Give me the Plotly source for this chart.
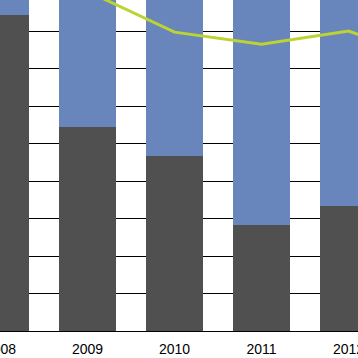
import plotly.graph_objects as go

years = ["2008", "2009", "2010", "2011", "2012", "2013"]
dark_share = [84.3, 54.4, 46.7, 28.3, 33.3]
blue_share = [100 - v for v in dark_share]
line_values = [97.0, 90.6, 79.7, 76.5, 80.0, 71.8]

x_bar = list(range(len(dark_share)))
x_line = list(range(len(line_values)))

fig = go.Figure()
fig.add_trace(go.Bar(x=x_bar, y=dark_share, marker=dict(color="#505050", line=dict(width=0)),
                     width=0.655, showlegend=False))
fig.add_trace(go.Bar(x=x_bar, y=blue_share, marker=dict(color="#6886bb", line=dict(width=0)),
                     width=0.655, showlegend=False))
fig.add_trace(go.Scatter(x=x_line, y=line_values, mode="lines",
                         line=dict(color="#bdd332", width=3), showlegend=False))

fig.update_layout(
    barmode="stack",
    width=358, height=358,
    margin=dict(l=0, r=0, t=0, b=27, autoexpand=False),
    paper_bgcolor="white", plot_bgcolor="white",
    font=dict(family="Liberation Sans, Arial, sans-serif", size=14, color="black"),
)
fig.update_xaxes(range=[-0.5 / 87, 357.5 / 87], tickmode="array",
                 tickvals=list(range(len(years))),
                 ticktext=years, showgrid=False, showline=True, linecolor="black", linewidth=1,
                 ticks="", zeroline=False, tickfont=dict(size=14, color="black"),
                 ticklabeloverflow="allow", automargin=False, ticklabelstandoff=5)
fig.update_yaxes(range=[0, 331 / 3.75], dtick=10, tick0=0, showgrid=True, gridcolor="black",
                 gridwidth=1, showticklabels=False, zeroline=False, showline=False, ticks="",
                 automargin=False)

fig.write_html("out.html", config={"displayModeBar": False},
               post_script="document.body.style.margin='0';document.body.style.overflow='hidden';")
